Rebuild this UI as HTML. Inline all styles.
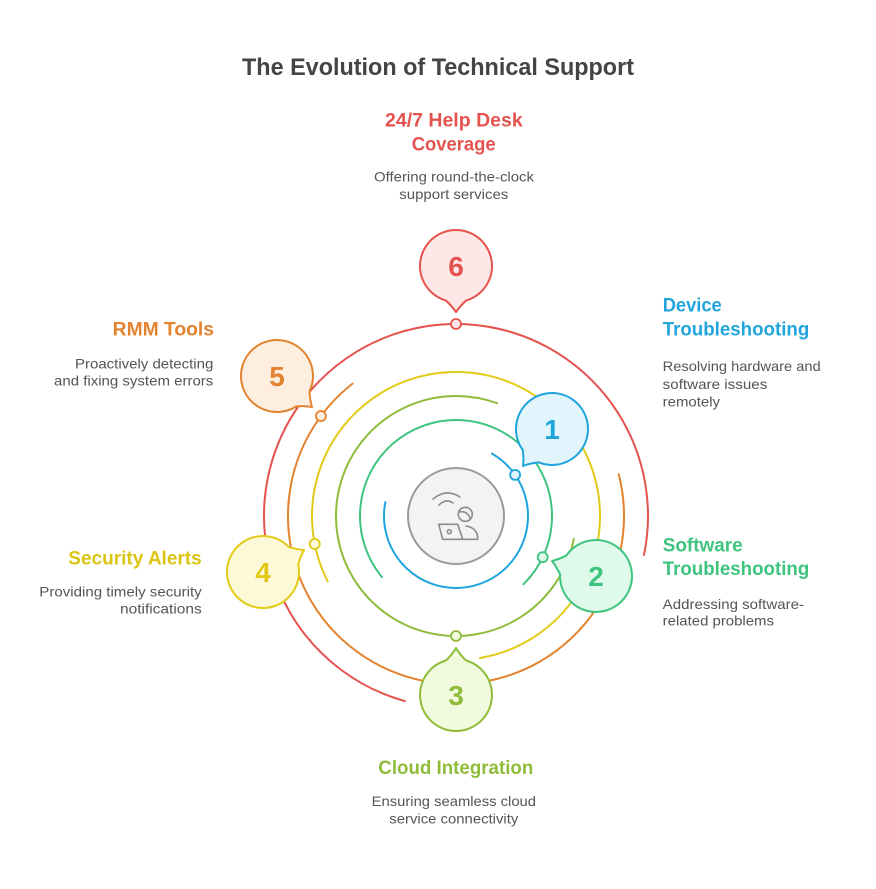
<!DOCTYPE html>
<html>
<head>
<meta charset="utf-8">
<style>
  html, body { margin:0; padding:0; background:#ffffff; }
  svg { display:block; }
  .t { font-family: "Liberation Sans", "DejaVu Sans", sans-serif; }
  .h { font-weight:700; font-size:19px; }
  .d { font-size:14px; fill:#555555; }
  .n { font-weight:700; font-size:28px; text-anchor:middle; }
</style>
</head>
<body>
<svg width="876" height="889" viewBox="0 0 876 889" xmlns="http://www.w3.org/2000/svg">
  <rect x="0" y="0" width="876" height="889" fill="#ffffff"/>

  <!-- Title -->
  <text class="t" x="242" y="75" font-size="24" font-weight="700" fill="#444444" textLength="392" lengthAdjust="spacingAndGlyphs">The Evolution of Technical Support</text>

  <!-- Rings -->
  <g fill="none" stroke-width="2" stroke-linecap="round">
    <path d="M492 453.65 A72 72 0 1 1 385.32 502.26" stroke="#1ea5dc"/>
    <path d="M381.93 577.07 A96 96 0 1 1 523.41 584.35" stroke="#3ec47e"/>
    <path d="M573.8 538.9 A120 120 0 1 1 497.04 403.24" stroke="#8fbc3a"/>
    <path d="M327.7 581.38 A144 144 0 1 1 480.02 657.98" stroke="#e2cb17"/>
    <path d="M618.72 474.22 A168 168 0 1 1 352.57 383.61" stroke="#e3832f"/>
    <path d="M405 701.1 A192 192 0 1 1 644 554.94" stroke="#e5534f"/>
  </g>

  <!-- Center icon -->
  <circle cx="456" cy="516" r="48" fill="#f3f3f3" stroke="#999999" stroke-width="2"/>
  <g fill="none" stroke="#8c8c8c" stroke-width="1.6" stroke-linecap="round" stroke-linejoin="round">
    <path d="M433 499 Q446 488 460 497"/>
    <path d="M439 505 Q446 498 453 503"/>
    <circle cx="465.3" cy="514.3" r="7"/>
    <path d="M459 512 Q467 510 470.5 519"/>
    <path d="M438.7 524.3 L457.7 524.3 L462.7 539.3 L442.7 539.3 Z"/>
    <circle cx="449.3" cy="531.7" r="2"/>
    <path d="M462.7 539.3 L477.7 539.3 Q478 528 466 526"/>
  </g>

  <!-- Bubbles -->
  <g stroke-width="2" stroke-linejoin="round">
    <path d="M446.08 300.61 A36 36 0 1 1 465.92 300.61 Q459.57 306.84 456 312 Q452.43 306.84 446.08 300.61 Z" fill="#fde8e7" stroke="#e5534f"/>
    <path d="M522.84 450.11 A36 36 0 1 1 538.46 462.35 Q529.61 463.35 523 466 Q523.98 458.94 522.84 450.11 Z" fill="#e3f5fc" stroke="#1ea5dc"/>
    <path d="M566.44 555.45 A36 36 0 1 1 560.04 574.24 Q556.19 566.22 552 561 Q558.49 559.46 566.44 555.45 Z" fill="#dffaeb" stroke="#3ec47e"/>
    <path d="M465.92 660.39 A36 36 0 1 1 446.08 660.39 Q452.43 654.16 456 648 Q459.57 654.16 465.92 660.39 Z" fill="#f1fadc" stroke="#8fbc3a"/>
    <path d="M298.19 564.39 A36 36 0 1 1 288.81 546.9 Q297.31 549.55 304 550 Q300.68 555.85 298.19 564.39 Z" fill="#fdf9d6" stroke="#e2cb17"/>
    <path d="M296.34 406.36 A36 36 0 1 1 309.49 391.5 Q309.96 400.39 312 407 Q305.22 405.74 296.34 406.36 Z" fill="#fdeee0" stroke="#e3832f"/>
  </g>

  <!-- Dots -->
  <g stroke-width="1.8">
    <circle cx="515.12" cy="474.91" r="5" fill="#e3f5fc" stroke="#1ea5dc"/>
    <circle cx="542.72" cy="557.17" r="5" fill="#dffaeb" stroke="#3ec47e"/>
    <circle cx="456" cy="636" r="5" fill="#f1fadc" stroke="#8fbc3a"/>
    <circle cx="314.74" cy="543.97" r="5" fill="#fdf9d6" stroke="#e2cb17"/>
    <circle cx="320.94" cy="416.07" r="5" fill="#fdeee0" stroke="#e3832f"/>
    <circle cx="456" cy="324" r="5" fill="#fde8e7" stroke="#e5534f"/>
  </g>

  <!-- Numbers -->
  <text class="t n" x="456" y="276" fill="#e5534f">6</text>
  <text class="t n" x="552" y="439" fill="#1ea5dc">1</text>
  <text class="t n" x="596" y="586" fill="#3ec47e">2</text>
  <text class="t n" x="456" y="705" fill="#8fbc3a">3</text>
  <text class="t n" x="263" y="582" fill="#e2c917">4</text>
  <text class="t n" x="277" y="386" fill="#e3832f">5</text>

  <!-- 6: 24/7 Help Desk Coverage -->
  <text class="t h" x="385" y="126.7" fill="#e5534f" textLength="137.7" lengthAdjust="spacingAndGlyphs">24/7 Help Desk</text>
  <text class="t h" x="411.7" y="150.5" fill="#e5534f" textLength="84" lengthAdjust="spacingAndGlyphs">Coverage</text>
  <text class="t d" x="374" y="181.7" textLength="160" lengthAdjust="spacingAndGlyphs">Offering round-the-clock</text>
  <text class="t d" x="399.3" y="199" textLength="109" lengthAdjust="spacingAndGlyphs">support services</text>

  <!-- 1: Device Troubleshooting -->
  <text class="t h" x="662.7" y="311.7" fill="#22a5dc" textLength="59" lengthAdjust="spacingAndGlyphs">Device</text>
  <text class="t h" x="662.7" y="335.7" fill="#22a5dc" textLength="146.6" lengthAdjust="spacingAndGlyphs">Troubleshooting</text>
  <text class="t d" x="662.7" y="371" textLength="158" lengthAdjust="spacingAndGlyphs">Resolving hardware and</text>
  <text class="t d" x="662.7" y="389" textLength="104.6" lengthAdjust="spacingAndGlyphs">software issues</text>
  <text class="t d" x="662.7" y="406.7" textLength="57.3" lengthAdjust="spacingAndGlyphs">remotely</text>

  <!-- 2: Software Troubleshooting -->
  <text class="t h" x="662.7" y="551.7" fill="#3ec47e" textLength="80" lengthAdjust="spacingAndGlyphs">Software</text>
  <text class="t h" x="662.7" y="575" fill="#3ec47e" textLength="146.6" lengthAdjust="spacingAndGlyphs">Troubleshooting</text>
  <text class="t d" x="662.7" y="609" textLength="141.3" lengthAdjust="spacingAndGlyphs">Addressing software-</text>
  <text class="t d" x="662.7" y="625.7" textLength="111.3" lengthAdjust="spacingAndGlyphs">related problems</text>

  <!-- 5: RMM Tools -->
  <text class="t h" x="112.7" y="335.7" fill="#e3832f" textLength="101.3" lengthAdjust="spacingAndGlyphs">RMM Tools</text>
  <text class="t d" x="75" y="368.3" textLength="138.3" lengthAdjust="spacingAndGlyphs">Proactively detecting</text>
  <text class="t d" x="54" y="385.7" textLength="159.3" lengthAdjust="spacingAndGlyphs">and fixing system errors</text>

  <!-- 4: Security Alerts -->
  <text class="t h" x="68.3" y="564.3" fill="#dcc414" textLength="133.4" lengthAdjust="spacingAndGlyphs">Security Alerts</text>
  <text class="t d" x="39.3" y="596.7" textLength="162.4" lengthAdjust="spacingAndGlyphs">Providing timely security</text>
  <text class="t d" x="120" y="613.3" textLength="81.7" lengthAdjust="spacingAndGlyphs">notifications</text>

  <!-- 3: Cloud Integration -->
  <text class="t h" x="378.3" y="774" fill="#8fbc3a" textLength="155" lengthAdjust="spacingAndGlyphs">Cloud Integration</text>
  <text class="t d" x="371.7" y="806" textLength="164.3" lengthAdjust="spacingAndGlyphs">Ensuring seamless cloud</text>
  <text class="t d" x="389.3" y="823.3" textLength="129" lengthAdjust="spacingAndGlyphs">service connectivity</text>
</svg>
</body>
</html>
